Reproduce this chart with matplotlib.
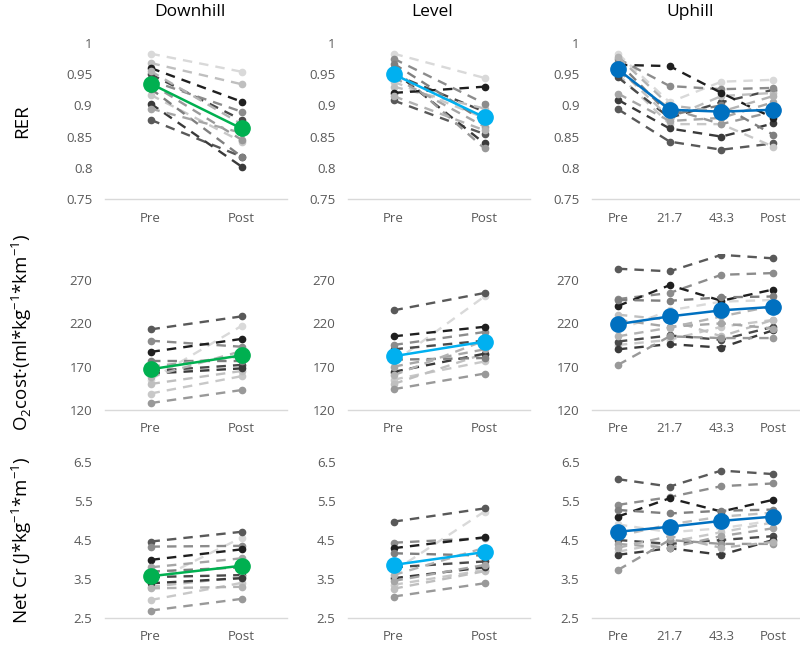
import matplotlib
matplotlib.use("Agg")
import matplotlib.pyplot as plt

plt.rcParams["font.family"] = ["Open Sans", "DejaVu Sans"]
plt.rcParams["mathtext.fontset"] = "custom"
plt.rcParams["mathtext.rm"] = "Open Sans"

# ── data ───────────────────────────────────────────────────────────────────────
CAT_2 = ["Pre", "Post"]
CAT_4 = ["Pre", "21.7", "43.3", "Post"]

# one grey shade per subject (same order in every panel)
SHADES = ["#d9d9d9", "#bfbfbf", "#1f1f1f", "#595959", "#8c8c8c", "#7f7f7f",
          "#c8c8c8", "#3a3a3a", "#a6a6a6", "#4a4a4a", "#999999", "#b3b3b3"]

rer_down = [[0.983, 0.954], [0.968, 0.934], [0.960, 0.906], [0.877, 0.818],
            [0.940, 0.890], [0.927, 0.818], [0.917, 0.842], [0.903, 0.802],
            [0.895, 0.856], [0.950, 0.877], [0.935, 0.845], [0.955, 0.870]]
rer_level = [[0.983, 0.944], [0.930, 0.895], [0.920, 0.930], [0.908, 0.854],
             [0.975, 0.903], [0.967, 0.874], [0.938, 0.880], [0.955, 0.839],
             [0.945, 0.866], [0.950, 0.890], [0.960, 0.831], [0.915, 0.860]]
rer_up = [[0.983, 0.905, 0.938, 0.941], [0.960, 0.880, 0.915, 0.920],
          [0.965, 0.963, 0.920, 0.880], [0.894, 0.842, 0.829, 0.839],
          [0.975, 0.931, 0.926, 0.928], [0.970, 0.885, 0.900, 0.853],
          [0.950, 0.870, 0.870, 0.834], [0.909, 0.863, 0.850, 0.871],
          [0.919, 0.875, 0.880, 0.905], [0.945, 0.880, 0.905, 0.925],
          [0.955, 0.895, 0.870, 0.890], [0.978, 0.900, 0.890, 0.915]]

o2_down = [[155, 217], [150, 165], [187, 202], [213, 228], [200, 193], [176, 176],
           [139, 159], [162, 168], [170, 182], [165, 172], [128, 143], [158, 188]]
o2_level = [[175, 251], [150, 185], [205, 216], [235, 255], [195, 210], [178, 180],
            [155, 176], [164, 185], [170, 190], [190, 200], [144, 162], [160, 200]]
o2_up = [[212, 235, 245, 247], [230, 224, 205, 224], [240, 264, 246, 259],
         [283, 280, 299, 295], [248, 255, 276, 278], [247, 246, 250, 251],
         [195, 201, 216, 224], [190, 196, 192, 212], [224, 216, 220, 214],
         [199, 206, 201, 216], [172, 205, 203, 203], [205, 215, 228, 240]]

cr_down = [[3.40, 4.56], [3.30, 3.55], [3.99, 4.26], [4.46, 4.71], [4.33, 4.35],
           [3.69, 3.80], [2.96, 3.40], [3.39, 3.52], [3.80, 4.03], [3.55, 3.60],
           [2.69, 2.99], [3.26, 3.30]]
cr_level = [[3.70, 5.23], [3.25, 3.70], [4.29, 4.57], [4.97, 5.31], [4.43, 4.55],
            [4.16, 4.10], [3.35, 3.73], [3.52, 3.80], [3.45, 3.86], [3.80, 3.95],
            [3.05, 3.39], [3.60, 4.30]]
cr_up = [[4.90, 4.70, 4.80, 5.00], [4.60, 4.90, 5.10, 5.20], [5.10, 5.57, 5.23, 5.53],
         [6.06, 5.87, 6.28, 6.19], [5.40, 5.60, 5.88, 5.95], [5.27, 5.18, 5.25, 5.28],
         [4.20, 4.45, 4.70, 4.95], [4.12, 4.29, 4.12, 4.50], [4.40, 4.30, 4.60, 4.80],
         [4.50, 4.40, 4.50, 4.60], [3.73, 4.50, 4.40, 4.40], [4.30, 4.60, 4.30, 4.45]]

rer_mean = {"down": [0.935, 0.863], "level": [0.950, 0.881], "up": [0.958, 0.893, 0.890, 0.893]}
o2_mean = {"down": [167, 183], "level": [182, 199], "up": [219, 228, 235, 239]}
cr_mean = {"down": [3.57, 3.84], "level": [3.86, 4.19], "up": [4.71, 4.84, 4.99, 5.10]}

MEAN_COLORS = {"down": "#00B050", "level": "#00B0F0", "up": "#0070C0"}
TITLES = ["Downhill", "Level", "Uphill"]

ROWS = [
    dict(data={"down": rer_down, "level": rer_level, "up": rer_up}, mean=rer_mean,
         ylim=(0.75, 1.0), ticks=[0.75, 0.8, 0.85, 0.9, 0.95, 1.0]),
    dict(data={"down": o2_down, "level": o2_level, "up": o2_up}, mean=o2_mean,
         ylim=(120, 300), ticks=[120, 170, 220, 270]),
    dict(data={"down": cr_down, "level": cr_level, "up": cr_up}, mean=cr_mean,
         ylim=(2.5, 6.5), ticks=[2.5, 3.5, 4.5, 5.5, 6.5]),
]
YLABELS = ["RER",
           r"O$_\mathregular{2}$cost·(ml*kg$^\mathregular{-1}$*km$^\mathregular{-1}$)",
           r"Net Cr (J*kg$^\mathregular{-1}$*m$^\mathregular{-1}$)"]

# ── layout (pixels) ────────────────────────────────────────────────────────────
W, H = 800, 646
COL_X = [(105, 287), (348, 530), (592, 799)]
ROW_Y = [(43, 199), (254, 410), (462, 618)]

fig = plt.figure(figsize=(W / 100, H / 100), dpi=100)
TICK_C = "#595959"

for r, row in enumerate(ROWS):
    for c, key in enumerate(["down", "level", "up"]):
        x0, x1 = COL_X[c]
        y0, y1 = ROW_Y[r]
        ax = fig.add_axes([x0 / W, 1 - y1 / H, (x1 - x0) / W, (y1 - y0) / H])
        cats = CAT_4 if key == "up" else CAT_2
        xs = list(range(len(cats)))

        for i, subj in enumerate(row["data"][key]):
            ax.plot(xs, subj, color=SHADES[i], lw=1.7, ls=(0, (4, 3)),
                    marker="o", ms=4.5, zorder=2 + (i % 3) * 0.1)
        ax.plot(xs, row["mean"][key], color=MEAN_COLORS[key], lw=1.8,
                marker="o", ms=11, zorder=5)

        ax.set_xlim(-0.5, len(cats) - 0.5)
        ax.set_ylim(*row["ylim"])
        ax.set_yticks(row["ticks"])
        ax.set_yticklabels([f"{t:g}" for t in row["ticks"]])
        ax.set_xticks(xs)
        ax.set_xticklabels(cats)
        ax.tick_params(length=0, colors=TICK_C, labelsize=9.5)
        ax.tick_params(axis="x", pad=9)
        ax.tick_params(axis="y", pad=9)
        for s in ["top", "right", "left"]:
            ax.spines[s].set_visible(False)
        ax.spines["bottom"].set_color("#d9d9d9")
        ax.spines["bottom"].set_linewidth(1.0)
        ax.patch.set_alpha(0)

for t, xc in zip(TITLES, [190, 432, 690]):
    fig.text(xc / W, 1 - 12 / H, t, ha="center", va="center", fontsize=12.5, color="#000000")

for lab, (y0, y1) in zip(YLABELS, ROW_Y):
    fig.text(22 / W, 1 - (y0 + y1) / 2 / H, lab, rotation=90, ha="center",
             va="center", fontsize=13.5, color="#000000")

fig.savefig("out.png", dpi=100)
